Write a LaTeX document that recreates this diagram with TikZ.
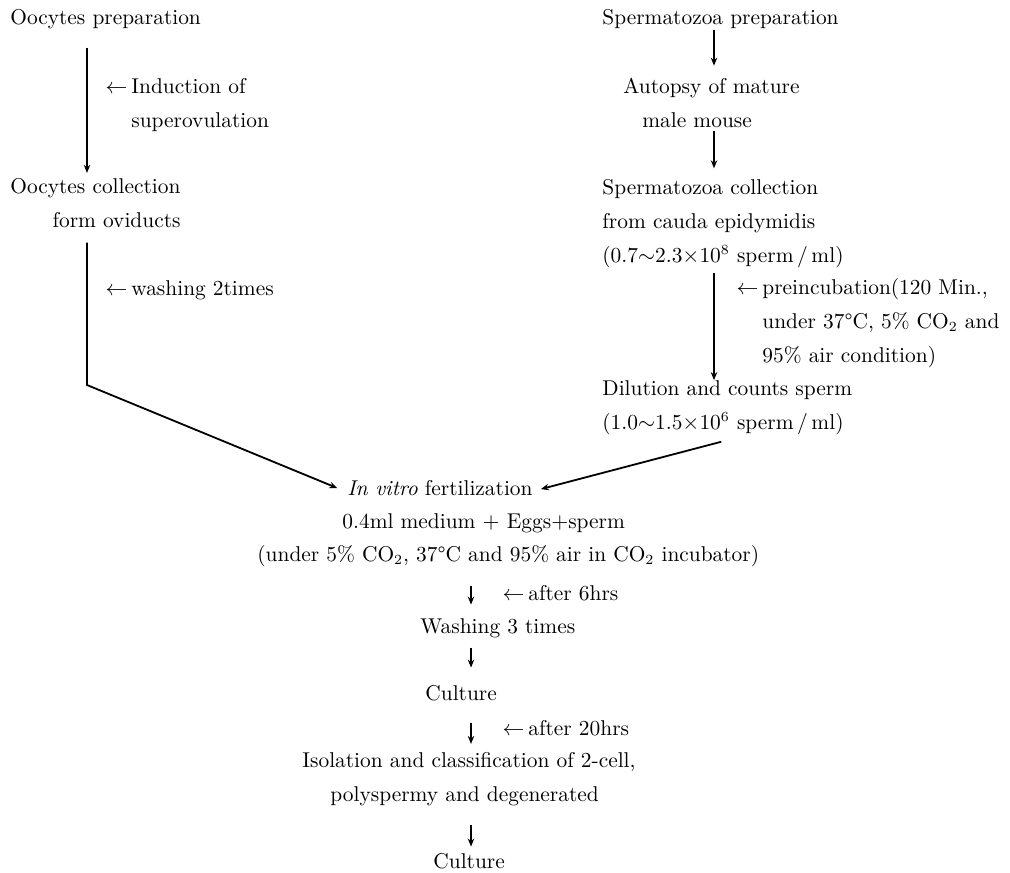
\documentclass[tikz,border=0pt]{standalone}
\usepackage{amsmath,amssymb}
\usepackage{tikz}
\usetikzlibrary{arrows.meta}

\begin{document}
\begin{tikzpicture}[
    x=0.5pt, y=-0.5pt,
    every node/.style={font=\fontsize{10.7}{16.8}\selectfont},
    stage/.style={anchor=base west, inner sep=0pt, align=left},
    line/.style={stage, text height=7.5pt, text depth=2.1pt},
    arrow/.style={-{Stealth[length=4pt,width=3.2pt]}, line width=0.9pt}
]
\useasboundingbox (0,0) rectangle (1010,872);
% oocytes side
\node[line] (ooprep) at (10,25) {Oocytes preparation};
\node[stage] (induct) at (131,127) {\llap{$\leftarrow$\hspace{2pt}}Induction of\\superovulation};
\node[stage, align=right] (oocoll) at (10,227) {Oocytes collection\\form oviducts};
\node[line] (wash2) at (131,295) {\llap{$\leftarrow$\hspace{2pt}}washing 2times};
\coordinate (lcol) at (87,0);
\coordinate (bend) at (87,385);
% spermatozoa side
\node[line] (spprep) at (602,25) {Spermatozoa preparation};
\node[stage] (autopsy) at (623,127) {Autopsy of mature\\\hspace*{9.5pt}male mouse};
\node[stage] (spcoll) at (602,262) {Spermatozoa collection\\from cauda epidymidis\\(0.7$\sim$2.3$\times$10$^{8}$ sperm\,/\,ml)};
\node[stage] (preinc) at (762,362) {\llap{$\leftarrow$\hspace{2pt}}preincubation(120 Min.,\\under 37°C, 5\% CO$_2$ and\\95\% air condition)};
\node[stage] (dilute) at (602,429) {Dilution and counts sperm\\(1.0$\sim$1.5$\times$10$^{6}$ sperm\,/\,ml)};
\coordinate (rcol) at (714,0);
% fertilization and culture
\node[line, inner xsep=3pt] (ivf) at (341,495) {\textit{In vitro} fertilization};
\node[line] (mix) at (342,528) {0.4ml medium $+$ Eggs$+$sperm};
\node[line] (cond) at (257,561) {(under 5\% CO$_2$, 37°C and 95\% air in CO$_2$ incubator)};
\node[line] (after6) at (528,600) {\llap{$\leftarrow$\hspace{2pt}}after 6hrs};
\node[line] (wash3) at (420,633) {Washing 3 times};
\node[line] (cult1) at (425,700) {Culture};
\node[line] (after20) at (528,735) {\llap{$\leftarrow$\hspace{2pt}}after 20hrs};
\node[stage] (isol) at (302,801) {Isolation and classification of 2-cell,\\\hspace*{14pt}polyspermy and degenerated};
\node[line] (cult2) at (433,868) {Culture};
\coordinate (mcol) at (471,0);

\draw[arrow, shorten <=9pt, shorten >=2.5pt] (ooprep.south -| lcol) -- (oocoll.north -| lcol);
\draw[arrow, shorten <=7.5pt, shorten >=2pt] (oocoll.south -| lcol) -- (bend) -- (ivf.west);
\draw[arrow, shorten >=6pt] (spprep.south -| rcol) -- (autopsy.north -| rcol);
\draw[arrow, shorten <=1.5pt, shorten >=5.5pt] (autopsy.south -| rcol) -- (spcoll.north -| rcol);
\draw[arrow, shorten <=2.8pt] (spcoll.south -| rcol) -- (dilute.north -| rcol);
\draw[arrow, shorten >=1pt] ([shift={(-6,7)}]dilute.south) -- (ivf.east);
\draw[arrow, shorten <=10pt, shorten >=6.5pt] (cond.south -| mcol) -- (wash3.north -| mcol);
\draw[arrow, shorten <=5pt, shorten >=8.5pt] (wash3.south -| mcol) -- (cult1.north -| mcol);
\draw[arrow, shorten <=9pt, shorten >=4pt] (cult1.south -| mcol) -- (isol.north -| mcol);
\draw[arrow, shorten <=9.6pt, shorten >=3pt] (isol.south -| mcol) -- (cult2.north -| mcol);
\end{tikzpicture}
\end{document}
